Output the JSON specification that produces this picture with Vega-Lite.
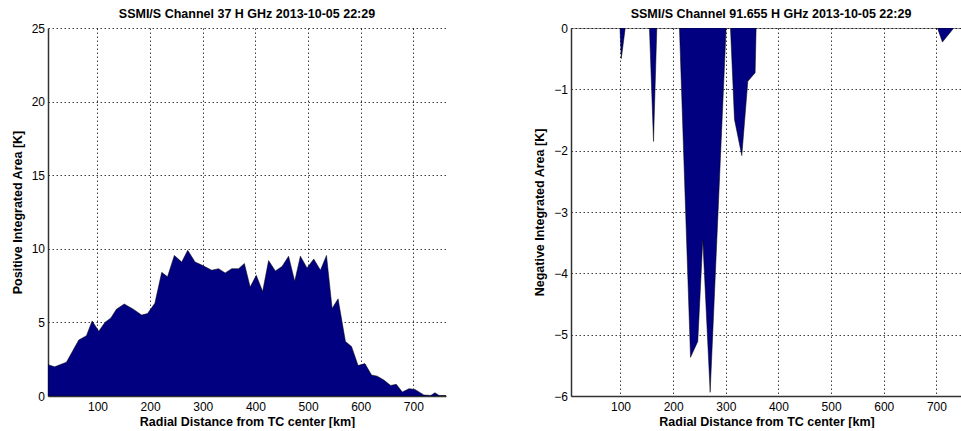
{
  "$schema": "https://vega.github.io/schema/vega-lite/v6.json",
  "background": "white",
  "padding": {"left": 11, "top": 7, "right": 0, "bottom": 0},
  "bounds": "flush",
  "spacing": 125,
  "config": {
    "font": "Liberation Sans",
    "view": {"stroke": null},
    "title": {"font": "Liberation Sans", "fontSize": 12.5, "fontWeight": "bold", "color": "#000", "offset": 2},
    "axis": {
      "labelFont": "Liberation Sans", "labelFontSize": 12, "labelColor": "#000",
      "titleFont": "Liberation Sans", "titleFontSize": 12.5, "titleFontWeight": "bold", "titleColor": "#000",
      "domainColor": "#333", "domainWidth": 1.5,
      "gridColor": "#000", "gridDash": [1.5, 2.5], "gridWidth": 0.9, "gridOpacity": 0.85,
      "ticks": false
    },
    "axisX": {"labelPadding": 5.5, "titlePadding": 3},
    "axisY": {"labelPadding": 3.5, "titlePadding": 7}
  },
  "datasets": {
    "pos": [
      {"r": 6, "v": 2.13}, {"r": 18.7, "v": 1.98}, {"r": 41, "v": 2.3}, {"r": 64.4, "v": 3.8},
      {"r": 79, "v": 4.1}, {"r": 89.8, "v": 5.1}, {"r": 102.5, "v": 4.4}, {"r": 114, "v": 5.0},
      {"r": 125.4, "v": 5.3}, {"r": 136, "v": 5.9}, {"r": 150.8, "v": 6.25}, {"r": 168, "v": 5.9},
      {"r": 183.8, "v": 5.5}, {"r": 195, "v": 5.6}, {"r": 209, "v": 6.3}, {"r": 222, "v": 8.4},
      {"r": 233, "v": 8.1}, {"r": 246, "v": 9.55}, {"r": 260, "v": 9.1}, {"r": 271.4, "v": 9.9},
      {"r": 285.4, "v": 9.1}, {"r": 298, "v": 8.9}, {"r": 317, "v": 8.55}, {"r": 330, "v": 8.65},
      {"r": 342.5, "v": 8.36}, {"r": 355, "v": 8.65}, {"r": 368, "v": 8.65}, {"r": 379, "v": 9.0},
      {"r": 390, "v": 7.4}, {"r": 401.6, "v": 8.2}, {"r": 413.7, "v": 7.1}, {"r": 425, "v": 9.2},
      {"r": 437.8, "v": 8.5}, {"r": 450.5, "v": 8.8}, {"r": 463, "v": 9.5}, {"r": 474.6, "v": 7.8},
      {"r": 485.4, "v": 9.5}, {"r": 498, "v": 8.7}, {"r": 510.8, "v": 9.3}, {"r": 523.5, "v": 8.55},
      {"r": 535, "v": 9.55}, {"r": 545.7, "v": 5.95}, {"r": 557, "v": 6.6}, {"r": 571, "v": 3.7},
      {"r": 582.5, "v": 3.37}, {"r": 595, "v": 2.07}, {"r": 608, "v": 2.2}, {"r": 620.6, "v": 1.42},
      {"r": 631.4, "v": 1.35}, {"r": 644, "v": 1.08}, {"r": 656.8, "v": 0.72}, {"r": 667.6, "v": 0.79},
      {"r": 679, "v": 0.27}, {"r": 691.7, "v": 0.5}, {"r": 703, "v": 0.45}, {"r": 720, "v": 0.07},
      {"r": 733, "v": 0.04}, {"r": 741, "v": 0.22}, {"r": 749, "v": 0.04}, {"r": 762, "v": 0.03}
    ],
    "neg": [
      {"r": 6, "v": 0}, {"r": 99, "v": 0}, {"r": 101.5, "v": -0.5}, {"r": 109, "v": 0},
      {"r": 155, "v": 0}, {"r": 162.7, "v": -1.85}, {"r": 169, "v": 0},
      {"r": 212, "v": 0}, {"r": 233, "v": -5.37}, {"r": 246.8, "v": -5.11}, {"r": 256.3, "v": -3.45},
      {"r": 270.3, "v": -5.94}, {"r": 300.6, "v": 0},
      {"r": 308.9, "v": 0}, {"r": 316.5, "v": -1.49}, {"r": 330.4, "v": -2.08}, {"r": 341.8, "v": -0.87},
      {"r": 355.7, "v": -0.73}, {"r": 357.6, "v": 0},
      {"r": 702, "v": 0}, {"r": 711.4, "v": -0.23}, {"r": 733, "v": 0}, {"r": 748.6, "v": 0}
    ]
  },
  "hconcat": [
    {
      "width": 398,
      "height": 368,
      "title": {"text": "SSMI/S Channel 37 H GHz 2013-10-05 22:29"},
      "data": {"name": "pos"},
      "mark": {"type": "area", "color": "#000080", "stroke": "#000000", "strokeWidth": 0.5, "clip": true},
      "encoding": {
        "x": {"field": "r", "type": "quantitative",
          "scale": {"domain": [6, 762], "nice": false, "zero": false},
          "axis": {"title": "Radial Distance from TC center [km]", "values": [100, 200, 300, 400, 500, 600, 700], "grid": true}},
        "y": {"field": "v", "type": "quantitative",
          "scale": {"domain": [0, 25], "nice": false},
          "axis": {"title": "Positive Integrated Area [K]", "values": [0, 5, 10, 15, 20, 25], "grid": true}},
        "y2": {"datum": 0}
      }
    },
    {
      "width": 391,
      "height": 368,
      "title": {"text": "SSMI/S Channel 91.655 H GHz 2013-10-05 22:29", "dx": 4.5},
      "data": {"name": "neg"},
      "mark": {"type": "area", "color": "#000080", "stroke": "#000000", "strokeWidth": 0.5, "clip": true},
      "encoding": {
        "x": {"field": "r", "type": "quantitative",
          "scale": {"domain": [6, 748.6], "nice": false, "zero": false},
          "axis": {"title": "Radial Distance from TC center [km]", "values": [100, 200, 300, 400, 500, 600, 700], "grid": true}},
        "y": {"field": "v", "type": "quantitative",
          "scale": {"domain": [-6, 0], "nice": false},
          "axis": {"title": "Negative Integrated Area [K]", "values": [-6, -5, -4, -3, -2, -1, 0], "grid": true}},
        "y2": {"datum": 0}
      }
    }
  ]
}
